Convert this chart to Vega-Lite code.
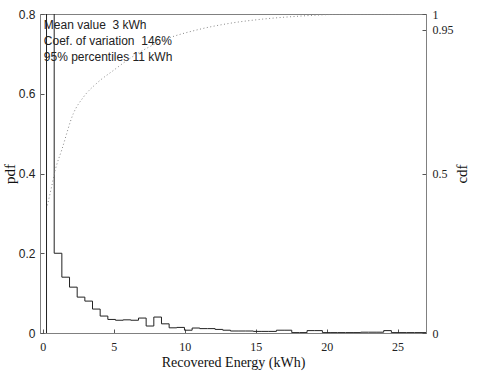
{
  "$schema": "https://vega.github.io/schema/vega-lite/v6.json",
  "autosize": {"type": "none"},
  "padding": {"left": 40, "top": 14, "right": 54, "bottom": 43},
  "width": 386,
  "height": 319,
  "background": "white",
  "config": {
    "view": {"stroke": "#808080", "strokeWidth": 1},
    "axis": {"grid": false, "domainColor": "#808080", "tickColor": "#555555", "labelColor": "#222222", "titleColor": "#111111", "labelOverlap": false, "labelBound": false}
  },
  "datasets": {
    "hist": [
      {"i": 0, "x": 0.26, "pdf": 0},
      {"i": 1, "x": 0.26, "pdf": 1.0},
      {"i": 2, "x": 0.80, "pdf": 0.2},
      {"i": 3, "x": 1.34, "pdf": 0.14},
      {"i": 4, "x": 1.88, "pdf": 0.115},
      {"i": 5, "x": 2.42, "pdf": 0.09},
      {"i": 6, "x": 2.96, "pdf": 0.08},
      {"i": 7, "x": 3.50, "pdf": 0.06},
      {"i": 8, "x": 4.04, "pdf": 0.0425},
      {"i": 9, "x": 4.58, "pdf": 0.034},
      {"i": 10, "x": 5.12, "pdf": 0.032},
      {"i": 11, "x": 5.66, "pdf": 0.033},
      {"i": 12, "x": 6.20, "pdf": 0.032},
      {"i": 13, "x": 6.74, "pdf": 0.0375},
      {"i": 14, "x": 7.28, "pdf": 0.0175},
      {"i": 15, "x": 7.82, "pdf": 0.04},
      {"i": 16, "x": 8.36, "pdf": 0.023},
      {"i": 17, "x": 8.90, "pdf": 0.013},
      {"i": 18, "x": 9.44, "pdf": 0.014},
      {"i": 19, "x": 9.98, "pdf": 0.007},
      {"i": 20, "x": 10.52, "pdf": 0.0125},
      {"i": 21, "x": 11.06, "pdf": 0.011},
      {"i": 22, "x": 11.60, "pdf": 0.011},
      {"i": 23, "x": 12.14, "pdf": 0.009},
      {"i": 24, "x": 12.68, "pdf": 0.007},
      {"i": 25, "x": 13.22, "pdf": 0.005},
      {"i": 26, "x": 13.76, "pdf": 0.005},
      {"i": 27, "x": 14.30, "pdf": 0.005},
      {"i": 28, "x": 14.84, "pdf": 0.004},
      {"i": 29, "x": 15.38, "pdf": 0.004},
      {"i": 30, "x": 15.92, "pdf": 0.004},
      {"i": 31, "x": 16.46, "pdf": 0.007},
      {"i": 32, "x": 17.00, "pdf": 0.007},
      {"i": 33, "x": 17.54, "pdf": 0.001},
      {"i": 34, "x": 18.08, "pdf": 0.001},
      {"i": 35, "x": 18.62, "pdf": 0.006},
      {"i": 36, "x": 19.16, "pdf": 0.006},
      {"i": 37, "x": 19.70, "pdf": 0.001},
      {"i": 38, "x": 20.24, "pdf": 0.001},
      {"i": 39, "x": 20.78, "pdf": 0.001},
      {"i": 40, "x": 21.32, "pdf": 0.001},
      {"i": 41, "x": 21.86, "pdf": 0.001},
      {"i": 42, "x": 22.40, "pdf": 0.002},
      {"i": 43, "x": 22.94, "pdf": 0.002},
      {"i": 44, "x": 23.48, "pdf": 0.002},
      {"i": 45, "x": 24.02, "pdf": 0.006},
      {"i": 46, "x": 24.56, "pdf": 0.001},
      {"i": 47, "x": 25.10, "pdf": 0.001},
      {"i": 48, "x": 25.64, "pdf": 0.001},
      {"i": 49, "x": 26.18, "pdf": 0.001},
      {"i": 50, "x": 26.72, "pdf": 0.001},
      {"i": 51, "x": 27.26, "pdf": 0.001}
    ],
    "cdf": [
      {"x": 0.32, "cdf": 0.40},
      {"x": 0.6, "cdf": 0.455},
      {"x": 0.87, "cdf": 0.51},
      {"x": 1.34, "cdf": 0.575},
      {"x": 2.15, "cdf": 0.688},
      {"x": 2.87, "cdf": 0.74},
      {"x": 3.8, "cdf": 0.783},
      {"x": 5.0, "cdf": 0.824},
      {"x": 6.14, "cdf": 0.861},
      {"x": 8.5, "cdf": 0.918},
      {"x": 10.85, "cdf": 0.95},
      {"x": 13.2, "cdf": 0.971},
      {"x": 15.5, "cdf": 0.984},
      {"x": 18.0, "cdf": 0.993},
      {"x": 20.0, "cdf": 0.998},
      {"x": 22.0, "cdf": 1.0},
      {"x": 26.8, "cdf": 1.0}
    ]
  },
  "layer": [
    {
      "layer": [
        {
          "data": {"name": "hist"},
          "mark": {"type": "line", "interpolate": "step-after", "color": "#222222", "strokeWidth": 1, "clip": true},
          "encoding": {
            "x": {
              "field": "x", "type": "quantitative",
              "scale": {"domain": [-0.2, 27], "nice": false, "zero": false},
              "axis": {
                "values": [0, 5, 10, 15, 20, 25], "tickSize": -4, "labelPadding": 12,
                "labelFont": "Liberation Serif", "labelFontSize": 12,
                "title": "Recovered Energy (kWh)", "titleFont": "Liberation Serif", "titleFontSize": 14, "titleFontWeight": "normal", "titlePadding": 3
              }
            },
            "y": {
              "field": "pdf", "type": "quantitative",
              "scale": {"domain": [0, 0.8], "nice": false},
              "axis": {
                "orient": "left", "values": [0, 0.2, 0.4, 0.6, 0.8], "format": ".1~f", "tickSize": -4, "labelPadding": 9,
                "labelFont": "Liberation Sans", "labelFontSize": 12,
                "title": "pdf", "titleFont": "Liberation Serif", "titleFontSize": 15, "titleFontWeight": "normal", "titlePadding": 1
              }
            },
            "order": {"field": "i", "type": "quantitative"}
          }
        },
        {
          "data": {"values": [{}]},
          "mark": {"type": "text", "font": "Liberation Sans", "fontSize": 12, "color": "#222222", "align": "left", "baseline": "alphabetic", "lineHeight": 16},
          "encoding": {
            "x": {"datum": 0.07, "type": "quantitative"},
            "y": {"datum": 0.762, "type": "quantitative"},
            "text": {"value": ["Mean value\u00a0 3 kWh", "Coef. of variation\u00a0 146%", "95% percentiles 11 kWh"]}
          }
        }
      ]
    },
    {
      "data": {"name": "cdf"},
      "mark": {"type": "line", "interpolate": "monotone", "color": "#888888", "strokeWidth": 1, "strokeDash": [1, 2.5], "clip": true},
      "encoding": {
        "x": {"field": "x", "type": "quantitative"},
        "y": {
          "field": "cdf", "type": "quantitative",
          "scale": {"domain": [0, 1], "nice": false},
          "axis": {
            "orient": "right", "values": [0, 0.5, 0.95, 1], "format": ".2~f", "tickSize": -4, "labelPadding": 10,
            "labelFont": "Liberation Serif", "labelFontSize": 12,
            "title": "cdf", "titleFont": "Liberation Serif", "titleFontSize": 15, "titleFontWeight": "normal", "titleAngle": 270, "titlePadding": 16
          }
        }
      }
    }
  ],
  "resolve": {"scale": {"y": "independent"}}
}
